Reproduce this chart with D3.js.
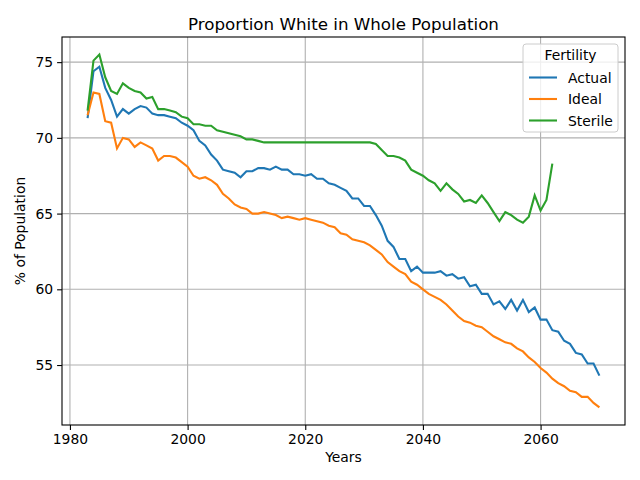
<!DOCTYPE html>
<html><head><meta charset="utf-8">
<script src="https://cdn.jsdelivr.net/npm/d3@7"></script>
<style>body{margin:0;background:#fff}text{font-family:"DejaVu Sans",sans-serif}</style>
</head><body><div id="chart"></div>
<script>
"use strict"
var startYear=1983
var actual=[71.3,74.4,74.7,73.3,72.5,71.4,71.9,71.6,71.9,72.1,72.0,71.6,71.5,71.5,71.4,71.3,71.0,70.8,70.5,69.8,69.5,68.9,68.5,67.9,67.8,67.7,67.4,67.8,67.8,68.0,68.0,67.9,68.1,67.9,67.9,67.6,67.6,67.5,67.6,67.3,67.3,67.0,66.9,66.7,66.5,66.0,66.0,65.5,65.5,64.9,64.2,63.2,62.8,62.0,62.0,61.2,61.5,61.1,61.1,61.1,61.2,60.9,61.0,60.7,60.8,60.2,60.3,59.7,59.7,59.0,59.2,58.7,59.3,58.6,59.3,58.5,58.8,58.0,58.0,57.3,57.2,56.6,56.4,55.8,55.7,55.1,55.1,54.3]
var ideal=[71.5,73.0,72.9,71.1,71.0,69.3,70.0,69.9,69.4,69.7,69.5,69.3,68.5,68.8,68.8,68.7,68.4,68.1,67.5,67.3,67.4,67.2,66.9,66.3,66.0,65.6,65.4,65.3,65.0,65.0,65.1,65.0,64.9,64.7,64.8,64.7,64.6,64.7,64.6,64.5,64.4,64.2,64.1,63.7,63.6,63.3,63.2,63.1,62.9,62.6,62.3,61.8,61.5,61.2,61.0,60.5,60.3,60.0,59.7,59.5,59.3,59.0,58.6,58.2,57.9,57.8,57.6,57.5,57.2,56.9,56.7,56.5,56.4,56.1,55.9,55.5,55.2,54.8,54.5,54.1,53.8,53.6,53.3,53.2,52.9,52.9,52.5,52.2]
var sterile=[71.8,75.1,75.5,74.0,73.1,72.9,73.6,73.3,73.1,73.0,72.6,72.7,71.9,71.9,71.8,71.7,71.4,71.3,70.9,70.9,70.8,70.8,70.5,70.4,70.3,70.2,70.1,69.9,69.9,69.8,69.7,69.7,69.7,69.7,69.7,69.7,69.7,69.7,69.7,69.7,69.7,69.7,69.7,69.7,69.7,69.7,69.7,69.7,69.7,69.6,69.2,68.8,68.8,68.7,68.5,67.9,67.7,67.5,67.2,67.0,66.5,67.0,66.6,66.3,65.8,65.9,65.7,66.2,65.7,65.1,64.5,65.1,64.9,64.6,64.4,64.8,66.2,65.2,65.9,68.3]
var seriesNames=["Actual","Ideal","Sterile"]
var seriesColors=["#1f77b4","#ff7f0e","#2ca02c"]
var xTicks=[1980,2000,2020,2040,2060]
var yTicks=[55,60,65,70,75]

var W=640,H=480,L=62,R=625,T=37,B=425
var svg=d3.select('#chart').append('svg').attr('width',W).attr('height',H)
var x=d3.scaleLinear().domain([1978.65,2074.35]).range([L,R])
var y=d3.scaleLinear().domain([51.04,76.66]).range([B,T])

// grid
svg.append('g').selectAll('line').data(xTicks).join('line')
  .attr('x1',d=>x(d)).attr('x2',d=>x(d)).attr('y1',T).attr('y2',B).attr('stroke','#b0b0b0').attr('stroke-width',1.1)
svg.append('g').selectAll('line').data(yTicks).join('line')
  .attr('y1',d=>y(d)).attr('y2',d=>y(d)).attr('x1',L).attr('x2',R).attr('stroke','#b0b0b0').attr('stroke-width',1.1)

var line=d3.line().x((d,i)=>x(startYear+i)).y(d=>y(d))
;[actual,ideal,sterile].forEach(function(s,k){
  svg.append('path').datum(s).attr('d',line).attr('fill','none').attr('stroke',seriesColors[k]).attr('stroke-width',2.1)
})

var xa=svg.append('g').attr('transform','translate(0,'+B+')').call(d3.axisBottom(x).tickValues(xTicks).tickFormat(d3.format('d')).tickSize(4.9).tickPadding(4).tickSizeOuter(0))
var ya=svg.append('g').attr('transform','translate('+L+',0)').call(d3.axisLeft(y).tickValues(yTicks).tickSize(4.9).tickPadding(4).tickSizeOuter(0))
;[xa,ya].forEach(a=>{a.selectAll('text').attr('font-size',13.9).attr('fill','#000').style('font-family','DejaVu Sans');a.select('.domain').remove();a.selectAll('line').attr('stroke-width',1.1)})
svg.append('rect').attr('x',L).attr('y',T).attr('width',R-L).attr('height',B-T).attr('fill','none').attr('stroke','#000').attr('stroke-width',1.1)

svg.append('text').attr('x',(L+R)/2).attr('y',T-7).attr('text-anchor','middle').attr('font-size',16.7).text('Proportion White in Whole Population')
svg.append('text').attr('x',(L+R)/2).attr('y',462).attr('text-anchor','middle').attr('font-size',13.9).text('Years')
svg.append('text').attr('transform','translate(25,'+((T+B)/2)+') rotate(-90)').attr('text-anchor','middle').attr('font-size',13.9).text('% of Population')

// legend
var lg=svg.append('g').attr('transform','translate(523,44)')
lg.append('rect').attr('width',95).attr('height',88).attr('rx',3).attr('fill','#fff').attr('fill-opacity',0.8).attr('stroke','#ccc')
lg.append('text').attr('x',47.5).attr('y',16).attr('text-anchor','middle').attr('font-size',13.9).text('Fertility')
seriesNames.forEach(function(n,k){
  var yy=33.5+k*21.5
  lg.append('line').attr('x1',6).attr('x2',34).attr('y1',yy).attr('y2',yy).attr('stroke',seriesColors[k]).attr('stroke-width',2.1)
  lg.append('text').attr('x',45).attr('y',yy+5).attr('font-size',13.9).text(n)
})
</script></body></html>
